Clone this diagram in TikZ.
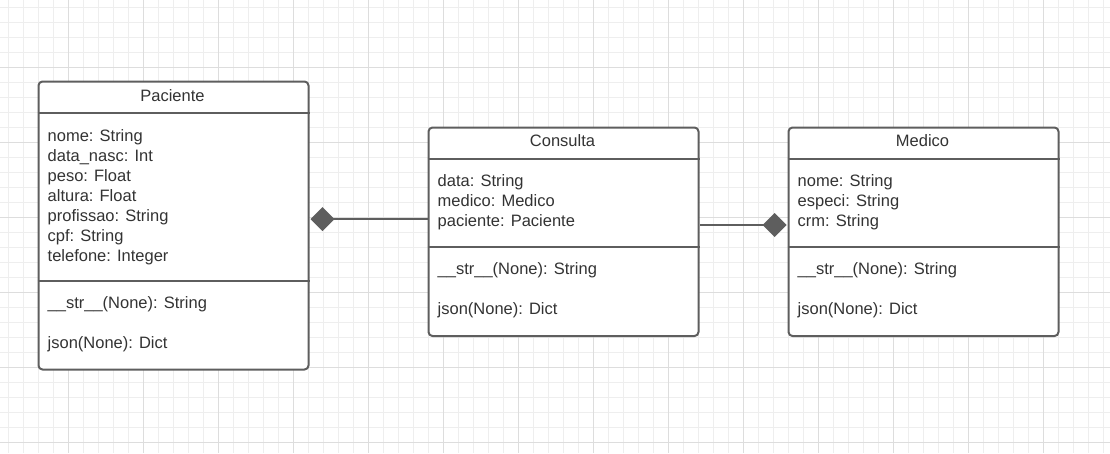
\documentclass[tikz,border=0pt]{standalone}
\usepackage{fontspec}
\setmainfont{Liberation Sans}
\usetikzlibrary{arrows.meta}
\definecolor{minorgrid}{HTML}{EEEEEE}
\definecolor{majorgrid}{HTML}{DDDDDD}
\definecolor{umlline}{HTML}{5E5E5E}
\definecolor{umltext}{HTML}{333333}
\tikzset{
  umlbox/.style={draw=umlline, line width=2pt, rounded corners=4pt, fill=white, inner sep=0pt, anchor=north west},
  divider/.style={draw=umlline, line width=2pt},
  txt/.style={text=umltext, inner sep=0pt, anchor=base west, font=\fontsize{16.5}{20}\selectfont},
  ttl/.style={txt, anchor=base},
  compo/.style={draw=umlline, line width=1.5pt, {Diamond[length=24pt,width=24pt,fill=umlline,line width=0pt]}-}
}
\begin{document}
\begin{tikzpicture}[x=1pt,y=-1pt]
\useasboundingbox (0,0) rectangle (1110,453);
\fill[white] (0,0) rectangle (1110,453);
% grid
\foreach \k in {0,...,73} \draw[minorgrid, line width=1pt] (8.3+15*\k,0) -- (8.3+15*\k,453);
\foreach \k in {0,...,29} \draw[minorgrid, line width=1pt] (0,7.3+15*\k) -- (1110,7.3+15*\k);
\foreach \k in {0,...,13} \draw[majorgrid, line width=1pt] (68.3+75*\k,0) -- (68.3+75*\k,453);
\foreach \k in {0,...,5} \draw[majorgrid, line width=1pt] (0,67.3+75*\k) -- (1110,67.3+75*\k);

% boxes
\node[umlbox, minimum width=270pt, minimum height=288pt] (pac) at (37.5,80.5) {};
\node[umlbox, minimum width=270pt, minimum height=208.5pt] (con) at (427.5,126.5) {};
\node[umlbox, minimum width=270pt, minimum height=208.5pt] (med) at (787.5,126.5) {};

\draw[divider] (pac.west |- 0,112.5) -- (pac.east |- 0,112.5);
\draw[divider] (pac.west |- 0,280.5) -- (pac.east |- 0,280.5);
\draw[divider] (con.west |- 0,159) -- (con.east |- 0,159);
\draw[divider] (con.west |- 0,247) -- (con.east |- 0,247);
\draw[divider] (med.west |- 0,159) -- (med.east |- 0,159);
\draw[divider] (med.west |- 0,247) -- (med.east |- 0,247);

% Paciente
\node[ttl] (pacT) at (172.5,101) {Paciente};
\node[txt] (pa1) at (47.5,141) {nome: String};
\node[txt] (pa2) at (47.5,161) {data\_nasc: Int};
\node[txt] (pa3) at (47.5,181) {peso: Float};
\node[txt] (pa4) at (47.5,201) {altura: Float};
\node[txt] (pa5) at (47.5,221) {profissao: String};
\node[txt] (pa6) at (47.5,241) {cpf: String};
\node[txt] (pa7) at (47.5,261) {telefone: Integer};
\node[txt] (pm1) at (47.5,308) {\_\_str\_\_(None): String};
\node[txt] (pm2) at (47.5,348) {json(None): Dict};

% Consulta
\node[ttl] (conT) at (562.5,146.7) {Consulta};
\node[txt] (ca1) at (437.5,186.7) {data: String};
\node[txt] (ca2) at (437.5,206.7) {medico: Medico};
\node[txt] (ca3) at (437.5,226.7) {paciente: Paciente};
\node[txt] (cm1) at (437.5,274.5) {\_\_str\_\_(None): String};
\node[txt] (cm2) at (437.5,314.5) {json(None): Dict};

% Medico
\node[ttl] (medT) at (922.5,146.7) {Medico};
\node[txt] (ma1) at (797.5,186.7) {nome: String};
\node[txt] (ma2) at (797.5,206.7) {especi: String};
\node[txt] (ma3) at (797.5,226.7) {crm: String};
\node[txt] (mm1) at (797.5,274.5) {\_\_str\_\_(None): String};
\node[txt] (mm2) at (797.5,314.5) {json(None): Dict};

% connectors
\coordinate (y1) at (0,219);
\coordinate (y2) at (0,225);
\draw[compo] ([xshift=1pt]pac.east |- y1) -- (con.west |- y1);
\draw[compo] ([xshift=-1pt]med.west |- y2) -- (con.east |- y2);
\end{tikzpicture}
\end{document}
